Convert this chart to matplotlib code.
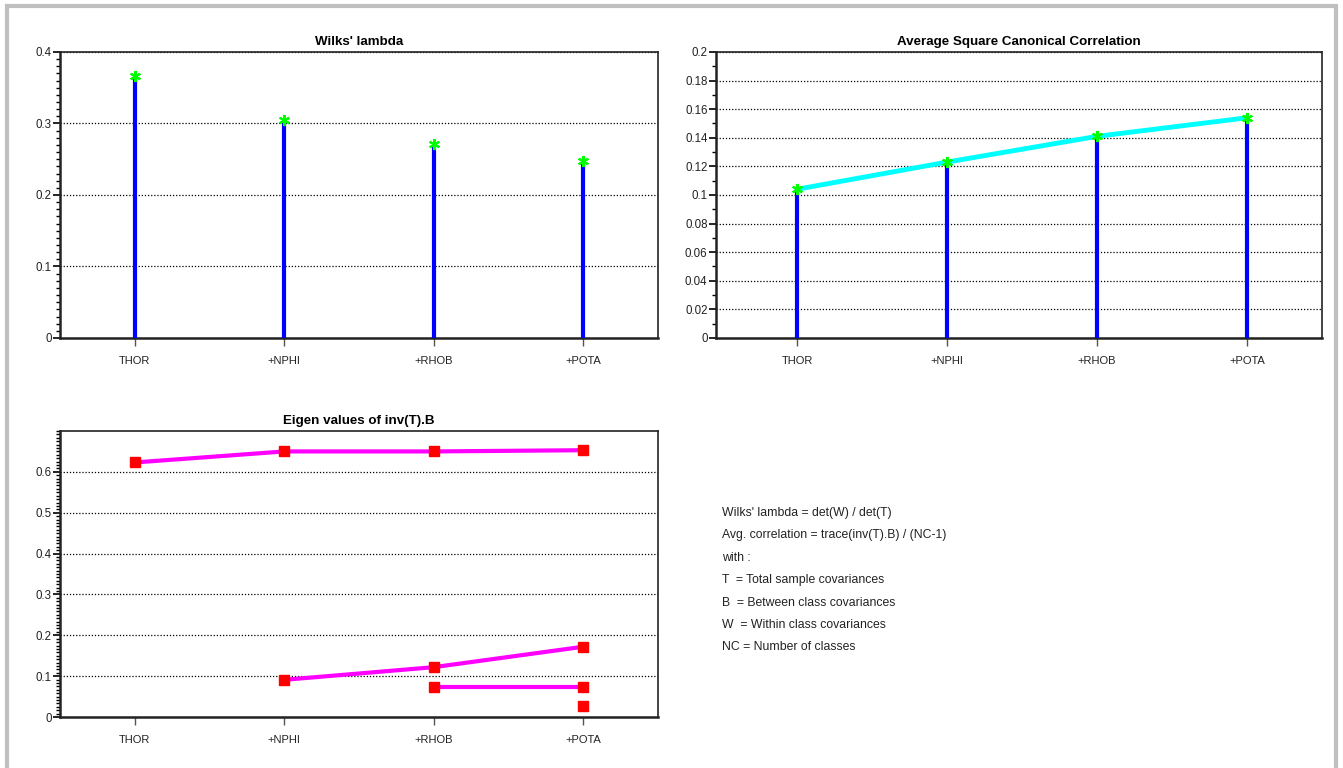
import numpy as np
import matplotlib
matplotlib.use("Agg")
import matplotlib.pyplot as plt
from matplotlib.ticker import MultipleLocator
from matplotlib.patches import Rectangle

plt.rcParams['font.family'] = ['Liberation Sans Narrow', 'Liberation Sans', 'DejaVu Sans']

# data
steps = ["THOR", "+NPHI", "+RHOB", "+POTA"]
wilks = [0.366, 0.305, 0.272, 0.247]
avg_corr = [0.104, 0.123, 0.141, 0.154]
eig_1 = [0.623, 0.650, 0.650, 0.653]
eig_2 = [np.nan, 0.091, 0.122, 0.172]
eig_3 = [np.nan, np.nan, 0.073, 0.073]
eig_4 = [np.nan, np.nan, np.nan, 0.027]

notes = ["Wilks' lambda = det(W) / det(T)",
         "Avg. correlation = trace(inv(T).B) / (NC-1)",
         "with :",
         "T  = Total sample covariances",
         "B  = Between class covariances",
         "W  = Within class covariances",
         "NC = Number of classes"]

x = np.arange(len(steps))


def style_axes(ax, ymax, major, minor):
    ax.set_xlim(-0.5, 3.5)
    ax.set_ylim(0, ymax)
    ax.set_xticks(x)
    ax.set_xticklabels(steps)
    ax.yaxis.set_major_locator(MultipleLocator(major))
    ax.yaxis.set_minor_locator(MultipleLocator(minor))
    ax.yaxis.set_major_formatter(plt.FuncFormatter(lambda v, p: "0" if v == 0 else ("%g" % round(v, 3))))
    ax.tick_params(axis='y', which='major', length=5, width=1.2, labelsize=8.3, pad=1,
                   labelcolor='#222222')
    ax.tick_params(axis='y', which='minor', length=3, width=1.0)
    ax.tick_params(axis='x', which='major', length=6, width=1, color='#555555', labelsize=8,
                   pad=7, labelcolor='#222222')
    ax.grid(True, axis='y', linestyle=(0, (1, 1.5)), color='black', linewidth=0.9)
    ax.set_axisbelow(True)
    for s in ax.spines.values():
        s.set_color('#222222')
        s.set_linewidth(1.2)
    ax.spines['left'].set_linewidth(1.8)
    ax.spines['bottom'].set_linewidth(1.8)


fig = plt.figure(figsize=(13.43, 7.68), dpi=100)

# window frame
fig.patches.append(Rectangle((7 / 1343, -0.01), (1336 - 7) / 1343, 1 - 6 / 768 + 0.01,
                             transform=fig.transFigure, fill=False,
                             edgecolor='#c0c0c0', linewidth=3))

ax1 = fig.add_axes([0.0447, 0.5599, 0.4453, 0.3724])
ax2 = fig.add_axes([0.5331, 0.5599, 0.4512, 0.3724])
ax3 = fig.add_axes([0.0447, 0.0664, 0.4453, 0.3724])

# Wilks' lambda
ax1.vlines(x, 0, wilks, color='#0000ff', linewidth=3, zorder=3)
ax1.plot(x, wilks, linestyle='none', marker=(6, 2, 0), markersize=8,
         markeredgecolor='#00ff00', markeredgewidth=1.5, zorder=4)
style_axes(ax1, 0.4, 0.1, 0.01)
ax1.set_title("Wilks' lambda", fontsize=9.6, fontweight='bold', pad=5)

# average square canonical correlation
ax2.vlines(x, 0, avg_corr, color='#0000ff', linewidth=3, zorder=3)
ax2.plot(x, avg_corr, color='#00ffff', linewidth=3.5, zorder=4)
ax2.plot(x, avg_corr, linestyle='none', marker=(6, 2, 0), markersize=8,
         markeredgecolor='#00ff00', markeredgewidth=1.5, zorder=5)
style_axes(ax2, 0.2, 0.02, 0.01)
ax2.set_xlim(-0.54, 3.5)
ax2.set_title("Average Square Canonical Correlation", fontsize=9.6, fontweight='bold', pad=5)

# eigen values
for eig in [eig_1, eig_2, eig_3, eig_4]:
    ax3.plot(x, eig, color='#ff00ff', linewidth=3, zorder=3)
    ax3.plot(x, eig, linestyle='none', marker='s', markersize=7.5,
             color='#ff0000', zorder=4)
style_axes(ax3, 0.7, 0.1, 0.1 / 12)
ax3.set_yticks(np.arange(0, 0.61, 0.1))
ax3.set_title("Eigen values of inv(T).B", fontsize=9.6, fontweight='bold', pad=5)

for i, line in enumerate(notes):
    fig.text(722 / 1343, 1 - (513 + i * 22.4) / 768, line, fontsize=8.8,
             ha='left', va='center', color='#222222')

fig.savefig("out.png", dpi=100)
